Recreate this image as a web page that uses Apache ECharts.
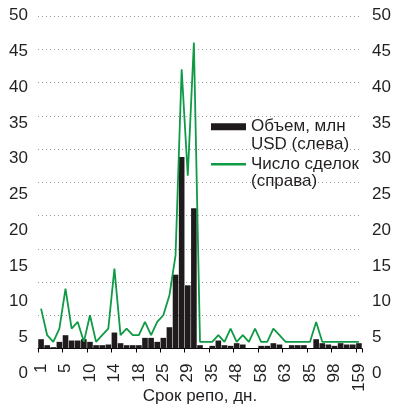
<!DOCTYPE html>
<html><head><meta charset="utf-8">
<script src="https://cdn.jsdelivr.net/npm/echarts@6/dist/echarts.min.js"></script>
<style>html,body{margin:0;padding:0;background:#fff}#c{width:407px;height:405px}</style>
</head><body><div id="c"></div>
<script>
// Tenor categories (days); every 4th is labelled
const tenors = [1,2,3,4,5,6,7,8,10,11,12,13,14,15,16,17,18,19,21,22,25,26,27,28,29,30,31,32,35,38,42,45,48,50,52,55,58,59,60,61,63,66,70,77,85,88,90,92,98,105,120,140,159];
// Volume, mln USD (left axis)
const volume = [1.4,0.5,0.2,1.0,2.0,1.2,1.2,1.4,1.0,0.5,0.5,0.6,2.4,0.8,0.5,0.5,0.5,1.6,1.6,1.0,1.6,3.2,11.1,28.8,9.5,21.1,0.5,0,0.4,1.2,0.5,0.4,0.8,0.6,0,0,0.4,0.4,0.8,0.6,0,0.5,0.5,0.5,0,1.4,0.8,0.6,0.4,0.8,0.6,0.6,0.8];
// Number of deals (right axis)
const deals = [6,2,1,3,9,3,4,1,5,1,2,3,12,2,3,2,2,4,2,4,5,8,14,42,26,46,1,1,1,2,1,3,1,2,1,3,1,1,3,2,1,1,1,1,1,4,1,1,1,1,1,1,1];
const seriesNames = ['Объем, млн\nUSD (слева)', 'Число сделок\n(справа)'];
const axisTitle = 'Срок репо, дн.';

const FONT = "'Liberation Sans', Arial, sans-serif";
const TXT = '#231f20';
const GREEN = '#0f9a45';
const BAR = '#1f1b1c';

const chart = echarts.init(document.getElementById('c'), null, {renderer: 'canvas'});
const labelAxisCommon = {
  type: 'value', gridIndex: 1, min: 0, max: 50, interval: 5,
  axisLine: {show: false}, axisTick: {show: false}, splitLine: {show: false},
  axisLabel: {margin: 10, fontSize: 17, color: TXT, fontFamily: FONT}
};
// blank first line so that the first text line sits level with the icon
const legendFmt = name => '\u00a0\n' + name;
const legendText = {fontSize: 17, lineHeight: 17.5, color: TXT, fontFamily: FONT};
chart.setOption({
  animation: false,
  backgroundColor: '#fff',
  grid: [
    {left: 38, right: 45, top: 16, bottom: 56.5, containLabel: false, outerBoundsMode: 'none'},
    {left: 38, right: 45, top: 15.5, bottom: 31.7, containLabel: false, outerBoundsMode: 'none'}
  ],
  legend: [
    {
      data: [{name: seriesNames[0], icon: 'rect'}], formatter: legendFmt,
      left: 211, top: 100.5, padding: 0, itemWidth: 35, itemHeight: 7, selectedMode: false,
      textStyle: legendText
    },
    {
      data: [{name: seriesNames[1], icon: 'rect'}], formatter: legendFmt,
      left: 211, top: 138, padding: 0, itemWidth: 35, itemHeight: 2.5, selectedMode: false,
      textStyle: legendText
    }
  ],
  xAxis: [
    {
      type: 'category', gridIndex: 0, data: tenors, boundaryGap: true,
      axisLine: {show: true, onZero: false, lineStyle: {color: '#000', width: 1}},
      axisTick: {show: true, interval: 3, length: 4, inside: false, lineStyle: {color: '#000'}},
      axisLabel: {interval: 3, rotate: 90, margin: 15, fontSize: 17, color: TXT, fontFamily: FONT},
      splitLine: {show: false},
      name: axisTitle, nameLocation: 'middle', nameGap: 39, nameMoveOverlap: false,
      nameTextStyle: {fontSize: 17, color: TXT, fontFamily: FONT}
    },
    {type: 'value', gridIndex: 1, min: 0, max: 1, show: false}
  ],
  yAxis: [
    {
      type: 'value', gridIndex: 0, min: 0, max: 50, interval: 5, position: 'left',
      axisLabel: {show: false}, axisLine: {show: false}, axisTick: {show: false},
      splitLine: {show: true, lineStyle: {color: '#9a9a9a', type: [1, 3], width: 1}}
    },
    {
      type: 'value', gridIndex: 0, min: 0, max: 50, interval: 5, position: 'right',
      axisLabel: {show: false}, axisLine: {show: false}, axisTick: {show: false}, splitLine: {show: false}
    },
    Object.assign({position: 'left'}, labelAxisCommon),
    Object.assign({position: 'right'}, labelAxisCommon)
  ],
  series: [
    {
      name: seriesNames[0], type: 'bar', xAxisIndex: 0, yAxisIndex: 0, data: volume,
      barCategoryGap: '8%', itemStyle: {color: BAR}, z: 2
    },
    {
      name: seriesNames[1], type: 'line', xAxisIndex: 0, yAxisIndex: 1, data: deals,
      symbol: 'none', showSymbol: false, smooth: false,
      lineStyle: {color: GREEN, width: 1.8}, itemStyle: {color: GREEN}, z: 3
    }
  ]
});
</script></body></html>
